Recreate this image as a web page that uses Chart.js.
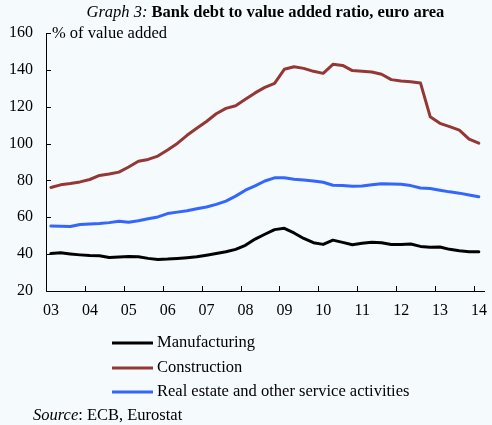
<!DOCTYPE html>
<html>
<head>
<meta charset="utf-8">
<script src="https://cdn.jsdelivr.net/npm/chart.js@4.4.1/dist/chart.umd.min.js"></script>
<style>
  html, body { margin: 0; padding: 0; background: #f5fafd; }
  #wrap { width: 492px; height: 425px; }
</style>
</head>
<body>
<div id="wrap"><canvas id="grafico" width="492" height="425"></canvas></div>
<script>
// Datos trimestrales, 2003T1 - 2014T1 (% del valor añadido)
const primerAnio = 2003;
const trimestres = [];
for (let a = 2003; a <= 2014; a++) {
  for (let q = 1; q <= 4; q++) {
    if (a === 2014 && q > 1) break;
    trimestres.push(a + 'Q' + q);
  }
}

const manufactura = [
  40.4, 40.7, 40.1, 39.6, 39.2, 39.1, 38.2, 38.4, 38.7, 38.6,
  37.7, 37.1, 37.3, 37.7, 38.1, 38.6, 39.4, 40.3, 41.3, 42.6,
  44.8, 48.2, 50.8, 53.3, 54.0, 51.5, 48.5, 46.2, 45.3, 47.6,
  46.4, 45.1, 45.9, 46.5, 46.2, 45.2, 45.3, 45.5, 44.2, 43.7,
  43.9, 42.6, 41.8, 41.3, 41.3
];
const construccion = [
  76.2, 77.6, 78.3, 79.2, 80.5, 82.7, 83.5, 84.5, 87.3, 90.4,
  91.4, 93.2, 96.5, 100.1, 104.5, 108.3, 112.0, 116.2, 119.1, 120.5,
  124.0, 127.5, 130.5, 132.7, 140.3, 141.7, 140.8, 139.2, 138.1, 143.0,
  142.4, 139.6, 139.3, 138.8, 137.6, 134.7, 134.0, 133.6, 132.9, 114.6,
  111.0, 109.2, 107.3, 102.4, 100.2
];
const inmobiliario = [
  55.3, 55.2, 55.0, 56.1, 56.3, 56.6, 57.1, 57.9, 57.3, 58.1,
  59.2, 60.2, 62.0, 62.8, 63.5, 64.6, 65.6, 67.0, 68.8, 71.5,
  74.7, 77.0, 79.7, 81.4, 81.4, 80.7, 80.2, 79.7, 79.0, 77.4,
  77.2, 76.8, 77.0, 77.6, 78.2, 78.0, 77.9, 77.2, 75.9, 75.6,
  74.7, 73.8, 73.1, 72.1, 71.1
];

const etiquetasX = ['03', '04', '05', '06', '07', '08', '09', '10', '11', '12', '13', '14'];
const ticksY = [20, 40, 60, 80, 100, 120, 140, 160];

// Convierte '2003Q1' en posición sobre el eje (mitad del trimestre)
function posTrimestre(t) {
  const anio = parseInt(t.slice(0, 4));
  const q = parseInt(t.slice(5));
  return anio + (q - 0.5) / 4;
}

function serie(valores) {
  return valores.map((v, i) => ({ x: posTrimestre(trimestres[i]), y: v }));
}

const fuente = "'Liberation Serif', 'Times New Roman', serif";

// Textos, leyenda y marcas de eje hacia dentro
const decoracion = {
  id: 'decoracion',
  beforeDraw(chart) {
    const ctx = chart.ctx;
    ctx.save();
    ctx.fillStyle = '#f5fafd';
    ctx.fillRect(0, 0, chart.width, chart.height);
    ctx.restore();
  },
  afterDraw(chart) {
    const ctx = chart.ctx;
    const area = chart.chartArea;
    const sx = chart.scales.x;
    const sy = chart.scales.y;
    ctx.save();
    ctx.fillStyle = '#000';
    ctx.strokeStyle = '#000';

    // marcas
    ctx.lineWidth = 1;
    ctx.beginPath();
    ticksY.forEach(v => {
      if (v === 20) return;
      const y = Math.round(sy.getPixelForValue(v)) + 0.5;
      ctx.moveTo(area.left, y);
      ctx.lineTo(area.left + 5, y);
    });
    etiquetasX.forEach((e, i) => {
      if (i === 0) return;
      const x = Math.round(sx.getPixelForValue(primerAnio + i)) + 0.5;
      ctx.moveTo(x, area.bottom);
      ctx.lineTo(x, area.bottom - 5);
    });
    ctx.stroke();

    // título
    ctx.textBaseline = 'middle';
    const t1 = 'Graph 3: ';
    const t2 = 'Bank debt to value added ratio, euro area';
    ctx.font = 'italic 16.5px ' + fuente;
    const w1 = ctx.measureText(t1).width;
    ctx.font = 'bold 16.5px ' + fuente;
    const w2 = ctx.measureText(t2).width;
    let x0 = (area.left + area.right) / 2 - (w1 + w2) / 2;
    ctx.textAlign = 'left';
    ctx.font = 'italic 16.5px ' + fuente;
    ctx.fillText(t1, x0, 13);
    ctx.font = 'bold 16.5px ' + fuente;
    ctx.fillText(t2, x0 + w1, 13);

    // unidad
    ctx.font = '16.5px ' + fuente;
    ctx.fillText('% of value added', area.left + 6, area.top + 1);

    // leyenda
    const filas = [343, 368, 392];
    chart.data.datasets.forEach((ds, i) => {
      ctx.strokeStyle = ds.borderColor;
      ctx.lineWidth = 3;
      ctx.beginPath();
      ctx.moveTo(112, filas[i]);
      ctx.lineTo(153, filas[i]);
      ctx.stroke();
      ctx.fillStyle = '#000';
      ctx.font = '16.5px ' + fuente;
      ctx.fillText(ds.label, 157, filas[i]);
    });

    // fuente
    ctx.font = 'italic 16.5px ' + fuente;
    const ws = ctx.measureText('Source').width;
    ctx.fillText('Source', 33, 416);
    ctx.font = '16.5px ' + fuente;
    ctx.fillText(': ECB, Eurostat', 33 + ws, 416);
    ctx.restore();
  }
};

const ctx = document.getElementById('grafico').getContext('2d');
new Chart(ctx, {
  type: 'line',
  data: {
    datasets: [
      { label: 'Manufacturing', data: serie(manufactura), borderColor: '#000000' },
      { label: 'Construction', data: serie(construccion), borderColor: '#953735' },
      { label: 'Real estate and other service activities', data: serie(inmobiliario), borderColor: '#3366ff' }
    ]
  },
  options: {
    responsive: false,
    animation: false,
    events: [],
    elements: {
      line: { borderWidth: 3, tension: 0, borderCapStyle: 'round', borderJoinStyle: 'round' },
      point: { radius: 0 }
    },
    layout: { padding: { top: 33, right: 2, bottom: 104, left: 0 } },
    plugins: { legend: { display: false }, title: { display: false }, tooltip: { enabled: false } },
    scales: {
      x: {
        type: 'linear',
        min: 2003,
        max: 2014.28,
        afterBuildTicks: s => { s.ticks = etiquetasX.map((e, i) => ({ value: primerAnio + i })); },
        afterFit: s => { s.height = 30; },
        grid: { display: false, drawTicks: false },
        border: { display: true, color: '#000', width: 1 },
        ticks: {
          color: '#000',
          font: { family: fuente, size: 16 },
          padding: 10,
          labelOffset: 5,
          maxRotation: 0,
          autoSkip: false,
          callback: (v) => etiquetasX[v - primerAnio]
        }
      },
      y: {
        min: 20,
        max: 160,
        afterBuildTicks: s => { s.ticks = ticksY.map(v => ({ value: v })); },
        afterFit: s => { s.width = 46; },
        grid: { display: false, drawTicks: false },
        border: { display: true, color: '#000', width: 1 },
        ticks: {
          color: '#000',
          font: { family: fuente, size: 16 },
          padding: 13
        }
      }
    }
  },
  plugins: [decoracion]
});
</script>
</body>
</html>
